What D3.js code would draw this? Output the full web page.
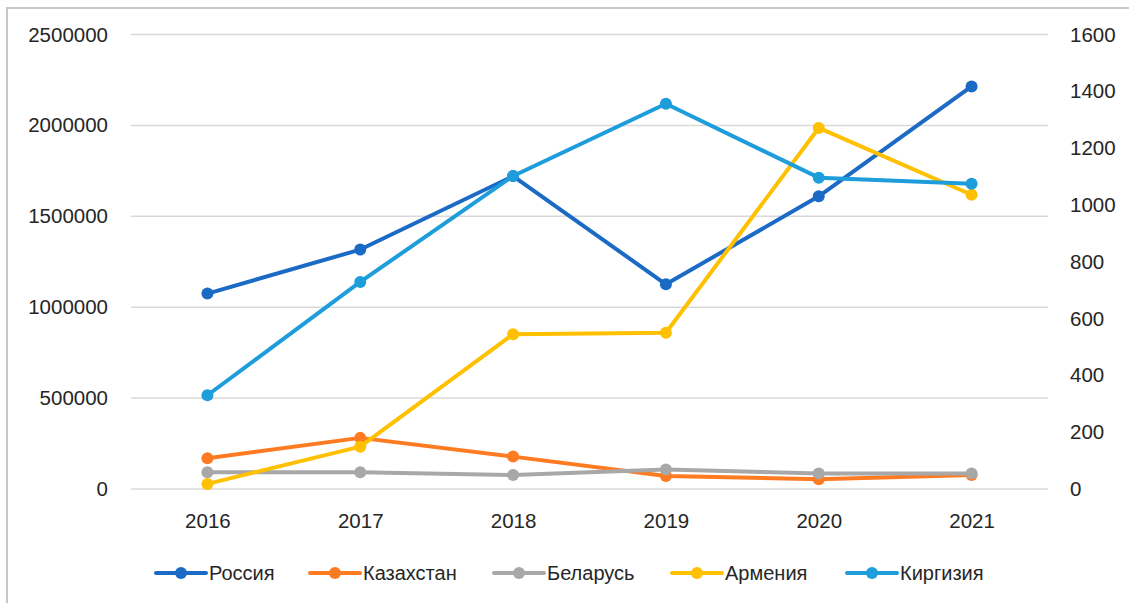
<!DOCTYPE html>
<html>
<head>
<meta charset="utf-8">
<script src="https://cdn.jsdelivr.net/npm/d3@7"></script>
<style>
  html, body { margin: 0; padding: 0; background: #fff; }
  svg { display: block; font-family: "Liberation Sans", Arial, sans-serif; }
</style>
</head>
<body>
<svg id="chart" width="1129" height="603"></svg>
<script>
const years = ["2016", "2017", "2018", "2019", "2020", "2021"];
const leftTicks = [0, 500000, 1000000, 1500000, 2000000, 2500000];
const rightTicks = [0, 200, 400, 600, 800, 1000, 1200, 1400, 1600];

// Primary axis
const russia = [1075000, 1317000, 1721000, 1126000, 1610000, 2214000];
// Secondary axis
const kazakhstan = [108, 180, 114, 46, 34, 49];
const belarus = [59, 59, 49, 69, 55, 55];
const armenia = [18, 149, 545, 550, 1271, 1036];
const kyrgyzstan = [330, 729, 1102, 1356, 1096, 1075];

const seriesNames = ["Россия", "Казахстан", "Беларусь", "Армения", "Киргизия"];
const seriesColors = ["#1b6ac6", "#ff7b22", "#a8a8a8", "#ffc000", "#1e9ddb"];
const seriesData = [russia, kazakhstan, belarus, armenia, kyrgyzstan];
const seriesAxis = ["left", "right", "right", "right", "right"];

const svg = d3.select("#chart");
const m = { left: 131, right: 1048, top: 34.5, bottom: 489 };

const x = d3.scalePoint().domain(years).range([m.left, m.right]).padding(0.5);
const yL = d3.scaleLinear().domain([0, 2500000]).range([m.bottom, m.top]);
const yR = d3.scaleLinear().domain([0, 1600]).range([m.bottom, m.top]);

// chart border (left + top)
svg.append("path")
  .attr("d", "M7,603 L7,8 L1129,8")
  .attr("fill", "none").attr("stroke", "#c8c8c8").attr("stroke-width", 2);

// gridlines
svg.append("g").selectAll("line").data(leftTicks).join("line")
  .attr("x1", m.left).attr("x2", m.right)
  .attr("y1", d => yL(d)).attr("y2", d => yL(d))
  .attr("stroke", "#d9d9d9").attr("stroke-width", 1.5);

const txtColor = "#262626";

// left axis
const gL = svg.append("g").attr("transform", `translate(${m.left},0)`)
  .call(d3.axisLeft(yL).tickValues(leftTicks).tickFormat(d3.format("d")).tickSize(0).tickPadding(23));
gL.select(".domain").remove();
gL.selectAll("text").attr("font-size", 20.5).attr("fill", txtColor).attr("font-family", "Liberation Sans, Arial, sans-serif");

// right axis
const gR = svg.append("g").attr("transform", `translate(${m.right},0)`)
  .call(d3.axisRight(yR).tickValues(rightTicks).tickFormat(d3.format("d")).tickSize(0).tickPadding(22));
gR.select(".domain").remove();
gR.selectAll("text").attr("font-size", 20.5).attr("fill", txtColor).attr("font-family", "Liberation Sans, Arial, sans-serif");

// bottom axis
const gB = svg.append("g").attr("transform", `translate(0,${m.bottom})`)
  .call(d3.axisBottom(x).tickSize(0).tickPadding(24));
gB.select(".domain").remove();
gB.selectAll("text").attr("font-size", 20.5).attr("fill", txtColor).attr("font-family", "Liberation Sans, Arial, sans-serif");

// series
seriesData.forEach((vals, i) => {
  const ys = seriesAxis[i] === "left" ? yL : yR;
  const pts = years.map((yr, j) => [x(yr), ys(vals[j])]);
  const g = svg.append("g");
  g.append("path")
    .attr("d", d3.line()(pts))
    .attr("fill", "none").attr("stroke", seriesColors[i])
    .attr("stroke-width", 4).attr("stroke-linejoin", "round").attr("stroke-linecap", "round");
  g.selectAll("circle").data(pts).join("circle")
    .attr("cx", d => d[0]).attr("cy", d => d[1]).attr("r", 6)
    .attr("fill", seriesColors[i]);
});

// legend
const legendX = [156, 310, 494, 672, 847];
const legendY = 573;
const lg = svg.append("g");
seriesNames.forEach((name, i) => {
  const lx = legendX[i];
  lg.append("line").attr("x1", lx).attr("x2", lx + 50).attr("y1", legendY).attr("y2", legendY)
    .attr("stroke", seriesColors[i]).attr("stroke-width", 4).attr("stroke-linecap", "round");
  lg.append("circle").attr("cx", lx + 25).attr("cy", legendY).attr("r", 6).attr("fill", seriesColors[i]);
  lg.append("text").attr("x", lx + 53).attr("y", legendY).attr("dy", "0.35em")
    .attr("font-size", 20).attr("fill", txtColor).text(name);
});
</script>
</body>
</html>
